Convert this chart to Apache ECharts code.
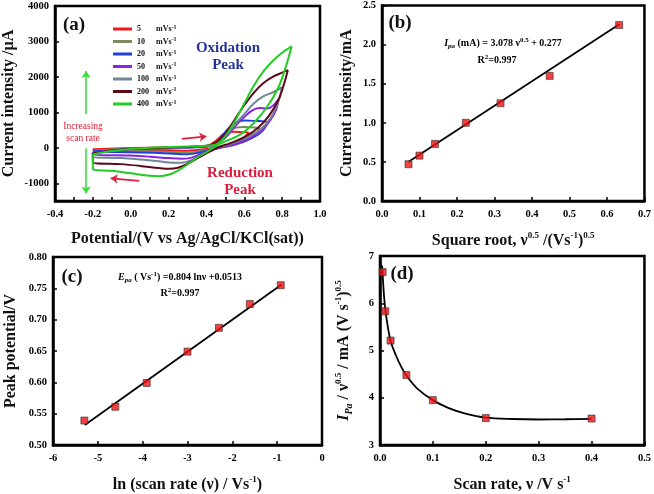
<!DOCTYPE html>
<html><head><meta charset="utf-8">
<script src="https://cdn.jsdelivr.net/npm/echarts@6/dist/echarts.min.js"></script>
<style>html,body{margin:0;padding:0;background:#fff}#c{width:654px;height:494px}</style>
</head><body><div id="c"></div>
<script>
// ---------- Panel (a): cyclic voltammograms (potential V, current µA) ----------
const cvRates = ['5', '10', '20', '50', '100', '200', '400'];
const cv5 = [[-0.2,-40],[0,-5],[0.2,15],[0.4,50],[0.45,200],[0.5,420],[0.55,450],[0.6,440],[0.62,430],[0.6,300],[0.56,160],[0.5,60],[0.45,10],[0.4,-30],[0.35,-60],[0.3,-80],[0.2,-70],[0,-55],[-0.2,-45],[-0.2,-40]];
const cv10 = [[-0.2,-80],[0,-20],[0.2,10],[0.4,40],[0.45,120],[0.5,380],[0.55,560],[0.6,590],[0.65,570],[0.68,560],[0.66,380],[0.62,220],[0.56,100],[0.5,30],[0.45,-20],[0.4,-60],[0.35,-110],[0.3,-130],[0.25,-125],[0.1,-95],[-0.2,-85],[-0.2,-80]];
const cv20 = [[-0.2,-100],[0,-30],[0.2,0],[0.4,40],[0.45,120],[0.5,450],[0.55,700],[0.6,770],[0.65,760],[0.72,720],[0.7,500],[0.65,300],[0.58,150],[0.5,40],[0.45,-20],[0.4,-80],[0.35,-150],[0.3,-180],[0.25,-175],[0.15,-145],[0,-125],[-0.2,-115],[-0.2,-100]];
const cv50 = [[-0.2,-130],[0,-40],[0.2,0],[0.4,40],[0.45,100],[0.5,280],[0.55,600],[0.6,870],[0.64,1050],[0.68,1120],[0.72,1110],[0.75,1180],[0.78,1370],[0.77,1100],[0.74,800],[0.69,480],[0.62,250],[0.54,80],[0.47,0],[0.42,-80],[0.36,-200],[0.31,-290],[0.27,-310],[0.2,-290],[0.1,-250],[0,-220],[-0.2,-190],[-0.2,-130]];
const cv100 = [[-0.2,-150],[0,-40],[0.2,0],[0.4,50],[0.45,120],[0.5,330],[0.55,650],[0.6,950],[0.65,1250],[0.7,1450],[0.75,1560],[0.8,1710],[0.78,1300],[0.74,850],[0.68,500],[0.6,260],[0.52,90],[0.47,20],[0.42,-80],[0.37,-220],[0.32,-350],[0.27,-420],[0.22,-420],[0.15,-380],[0.05,-330],[-0.05,-290],[-0.2,-260],[-0.2,-150]];
const cv200 = [[-0.2,-150],[-0.1,-80],[0,-30],[0.2,10],[0.4,60],[0.45,150],[0.5,400],[0.55,800],[0.6,1200],[0.65,1550],[0.7,1820],[0.75,2000],[0.8,2120],[0.83,2190],[0.81,1800],[0.78,1350],[0.73,900],[0.67,550],[0.6,300],[0.52,120],[0.47,30],[0.42,-100],[0.35,-300],[0.3,-450],[0.25,-560],[0.2,-590],[0.15,-570],[0.05,-510],[-0.05,-460],[-0.2,-410],[-0.2,-150]];
const cv400 = [[-0.2,-180],[-0.1,-90],[0,-30],[0.1,0],[0.2,20],[0.3,40],[0.4,60],[0.45,90],[0.5,330],[0.55,750],[0.6,1250],[0.65,1750],[0.7,2150],[0.75,2450],[0.8,2680],[0.85,2860],[0.82,2300],[0.78,1700],[0.72,1150],[0.65,700],[0.58,380],[0.5,180],[0.45,50],[0.4,-120],[0.35,-280],[0.3,-470],[0.25,-640],[0.2,-760],[0.15,-800],[0.1,-790],[0,-720],[-0.1,-650],[-0.2,-590],[-0.2,-180]];
const cvData = [cv5, cv10, cv20, cv50, cv100, cv200, cv400];
const cvColors = ['#f01818', '#7c8c5c', '#1f3fe0', '#8a22e6', '#6f8795', '#5c0a1a', '#22cc22'];
const aYTicks = [-1000, 0, 1000, 2000, 3000, 4000];

// ---------- Panel (b): peak current vs sqrt(scan rate) ----------
const bX = [0.0707, 0.1, 0.1414, 0.2236, 0.3162, 0.4472, 0.6325];
const bY = [0.47, 0.58, 0.73, 1.0, 1.25, 1.6, 2.25];
const bFit = [[0.07, 0.5], [0.633, 2.26]];

// ---------- Panel (c): peak potential vs ln(scan rate) ----------
const cX = [-5.30, -4.61, -3.91, -3.00, -2.30, -1.61, -0.92];
const cY = [0.539, 0.561, 0.599, 0.649, 0.687, 0.725, 0.755];
const cFit = [[-5.29, 0.532], [-0.90, 0.756]];

// ---------- Panel (d): Ipa/v^0.5 vs scan rate ----------
const dX = [0.005, 0.01, 0.02, 0.05, 0.1, 0.2, 0.4];
const dY = [6.66, 5.83, 5.21, 4.48, 3.95, 3.57, 3.56];
const dCurve = [[0.004,6.8],[0.005,6.6],[0.008,6.1],[0.012,5.7],[0.02,5.2],[0.03,4.9],[0.04,4.66],[0.05,4.47],[0.07,4.2],[0.1,3.95],[0.13,3.78],[0.16,3.67],[0.2,3.58],[0.25,3.55],[0.3,3.54],[0.35,3.545],[0.4,3.555]];

const zip = (xs, ys) => xs.map((x, i) => [x, ys[i]]);
const FONT = 'Liberation Serif';
const tickLbl = {fontFamily: FONT, fontWeight: 'bold', fontSize: 10.5, color: '#000'};
const nameStyle = {fontFamily: FONT, fontWeight: 'bold', fontSize: 16, color: '#111'};
const richBase = {
  n: {fontFamily: FONT, fontWeight: 'bold', fontSize: 16, color: '#111', lineHeight: 20},
  i: {fontFamily: FONT, fontWeight: 'bold', fontStyle: 'italic', fontSize: 16, color: '#111', lineHeight: 20},
  sup: {fontFamily: FONT, fontWeight: 'bold', fontSize: 9, color: '#111', lineHeight: 20, verticalAlign: 'top'},
  sub: {fontFamily: FONT, fontWeight: 'bold', fontStyle: 'italic', fontSize: 10, color: '#111', lineHeight: 20, verticalAlign: 'bottom'}
};
const axisCommon = {
  axisLine: {show: true, onZero: false, lineStyle: {color: '#000', width: 2.5}},
  axisTick: {show: true, inside: true, length: 4, lineStyle: {color: '#000', width: 1.5}},
  splitLine: {show: false},
  nameLocation: 'middle',
  nameTextStyle: Object.assign({}, nameStyle, {rich: richBase})
};
function ax(o) { return Object.assign({}, JSON.parse(JSON.stringify(axisCommon)), o); }

const grids = [
  {left: 52, top: 6, width: 268, height: 195},
  {left: 382, top: 5, width: 265, height: 196},
  {left: 53, top: 257, width: 269, height: 191},
  {left: 380, top: 256, width: 267, height: 193}
].map(g => Object.assign(g, {show: true, borderColor: '#000', borderWidth: 2.5, backgroundColor: 'transparent'}));

const fmt0 = v => String(v);
const fmt1 = v => v.toFixed(1);
const fmt2 = v => v.toFixed(2);

const xAxes = [
  ax({gridIndex: 0, type: 'value', min: -0.4, max: 1.0, interval: 0.2,
      minorTick: {show: true, splitNumber: 2, length: 4, lineStyle: {color: '#000', width: 1.5}},
      axisLabel: Object.assign({formatter: fmt1, margin: 8}, tickLbl),
      name: 'Potential/(V vs Ag/AgCl/KCl(sat))', nameGap: 30}),
  ax({gridIndex: 1, type: 'value', min: 0, max: 0.7, interval: 0.1,
      axisLabel: Object.assign({formatter: fmt1, margin: 8}, tickLbl),
      name: '{n|Square root, ν}{sup|0.5}{n| /(Vs}{sup|-1}{n|)}{sup|0.5}', nameGap: 30}),
  ax({gridIndex: 2, type: 'value', min: -6, max: 0, interval: 1,
      axisLabel: Object.assign({formatter: fmt0, margin: 8}, tickLbl),
      name: '{n|ln (scan rate (ν) / Vs}{sup|-1}{n|)}', nameGap: 30}),
  ax({gridIndex: 3, type: 'value', min: 0, max: 0.5, interval: 0.1,
      axisLabel: Object.assign({formatter: fmt1, margin: 8}, tickLbl),
      name: '{n|Scan rate, ν /V s}{sup|-1}', nameGap: 30})
];
const yAxes = [
  ax({gridIndex: 0, type: 'value', min: -1500, max: 4000,
      axisTick: {show: true, inside: true, length: 4, customValues: aYTicks, lineStyle: {color: '#000', width: 1.5}},
      axisLabel: Object.assign({customValues: aYTicks, formatter: fmt0, margin: 6}, tickLbl),
      name: 'Current intensity /µA', nameGap: 38}),
  ax({gridIndex: 1, type: 'value', min: 0, max: 2.5, interval: 0.5,
      axisLabel: Object.assign({formatter: fmt1, margin: 6}, tickLbl),
      name: 'Current intensity/mA', nameGap: 27}),
  ax({gridIndex: 2, type: 'value', min: 0.5, max: 0.8, interval: 0.05,
      axisLabel: Object.assign({formatter: fmt2, margin: 6}, tickLbl),
      name: 'Peak potential/V', nameGap: 34}),
  ax({gridIndex: 3, type: 'value', min: 3, max: 7, interval: 1,
      axisLabel: Object.assign({formatter: fmt0, margin: 6}, tickLbl),
      name: '{i|I}{sub|Pa}{n| / ν}{sup|0.5}{n| / mA (V s}{sup|-1}{n|)}{sup|0.5}', nameGap: 26})
];

const series = [];
cvRates.forEach((r, i) => {
  series.push({name: r, type: 'line', xAxisIndex: 0, yAxisIndex: 0, data: cvData[i],
    smooth: 0.35, showSymbol: false, symbol: 'none', lineStyle: {color: cvColors[i], width: 2},
    itemStyle: {color: cvColors[i]}, z: 2 + i});
});
// arrows in panel (a)
series.push({name: 'arrows', type: 'line', xAxisIndex: 0, yAxisIndex: 0, data: [], silent: true,
  markLine: {silent: true, symbol: ['none', 'arrow'], symbolSize: 7, label: {show: false},
    data: [
      [{coord: [-0.236, 950], lineStyle: {color: '#33dd33', width: 1.5, type: 'solid'}}, {coord: [-0.236, 2170]}],
      [{coord: [-0.236, -10], lineStyle: {color: '#33dd33', width: 1.5, type: 'solid'}}, {coord: [-0.236, -1290]}],
      [{coord: [0.27, 250], lineStyle: {color: '#e0203a', width: 1.8, type: 'solid'}}, {coord: [0.40, 320]}],
      [{coord: [0.045, -930], lineStyle: {color: '#e0203a', width: 1.8, type: 'solid'}}, {coord: [-0.106, -860]}]
    ]}});

const markerStyle = {color: '#ee1111', borderColor: '#333', borderWidth: 0.8};
series.push({type: 'line', xAxisIndex: 1, yAxisIndex: 1, data: bFit, showSymbol: false, symbol: 'none', lineStyle: {color: '#000', width: 1.8}});
series.push({type: 'scatter', xAxisIndex: 1, yAxisIndex: 1, data: zip(bX, bY), symbol: 'rect', symbolSize: 7, itemStyle: markerStyle, z: 5});
series.push({type: 'line', xAxisIndex: 2, yAxisIndex: 2, data: cFit, showSymbol: false, symbol: 'none', lineStyle: {color: '#000', width: 1.8}});
series.push({type: 'scatter', xAxisIndex: 2, yAxisIndex: 2, data: zip(cX, cY), symbol: 'rect', symbolSize: 7, itemStyle: markerStyle, z: 5});
series.push({type: 'line', xAxisIndex: 3, yAxisIndex: 3, data: dCurve, smooth: 0.3, showSymbol: false, symbol: 'none', lineStyle: {color: '#000', width: 1.8}});
series.push({type: 'scatter', xAxisIndex: 3, yAxisIndex: 3, data: zip(dX, dY), symbol: 'rect', symbolSize: 7, itemStyle: markerStyle, z: 5});

const smallRich = {
  n: {fontFamily: FONT, fontWeight: 'bold', fontSize: 10, color: '#111', lineHeight: 13},
  i: {fontFamily: FONT, fontWeight: 'bold', fontStyle: 'italic', fontSize: 10, color: '#111', lineHeight: 13},
  sup: {fontFamily: FONT, fontWeight: 'bold', fontSize: 7, color: '#111', lineHeight: 13, verticalAlign: 'top'},
  sub: {fontFamily: FONT, fontWeight: 'bold', fontStyle: 'italic', fontSize: 7, color: '#111', lineHeight: 13, verticalAlign: 'bottom'}
};
function txt(x, y, text, size, color, extra) {
  return {type: 'text', x: x, y: y, z: 100, style: Object.assign({text: text, fontFamily: FONT, fontWeight: 'bold', fontSize: size, fill: color, align: 'center', verticalAlign: 'middle'}, extra || {})};
}
const graphics = [
  txt(74, 25, '(a)', 19, '#111'),
  txt(400, 23, '(b)', 19, '#111'),
  txt(72, 277, '(c)', 19, '#111'),
  txt(402, 274, '(d)', 19, '#111'),
  txt(228, 48, 'Oxidation', 15, '#26349a'),
  txt(228, 65, 'Peak', 15, '#26349a'),
  txt(240, 173, 'Reduction', 15, '#d81e3c'),
  txt(240, 190, 'Peak', 15, '#d81e3c'),
  txt(83, 126, 'Increasing', 9.5, '#e0203a', {fontWeight: 'normal'}),
  txt(83, 138, 'scan rate', 9.5, '#e0203a', {fontWeight: 'normal'}),
  {type: 'text', x: 503, y: 43, z: 100, style: {text: '{i|I}{sub|pa}{n| (mA) = 3.078 ν}{sup|0.5}{n| + 0.277}', rich: smallRich, align: 'center', verticalAlign: 'middle'}},
  {type: 'text', x: 497, y: 60, z: 100, style: {text: '{n|R}{sup|2}{n|=0.997}', rich: smallRich, align: 'center', verticalAlign: 'middle'}},
  {type: 'text', x: 180, y: 277, z: 100, style: {text: '{i|E}{sub|pa}{n| ( Vs}{sup|-1}{n|) =0.804 lnν +0.0513}', rich: smallRich, align: 'center', verticalAlign: 'middle'}},
  {type: 'text', x: 180, y: 293, z: 100, style: {text: '{n|R}{sup|2}{n|=0.997}', rich: smallRich, align: 'center', verticalAlign: 'middle'}}
];

const chart = echarts.init(document.getElementById('c'), null, {renderer: 'canvas'});
chart.setOption({
  animation: false,
  backgroundColor: '#fff',
  grid: grids,
  xAxis: xAxes,
  yAxis: yAxes,
  legend: {
    data: cvRates, orient: 'vertical', left: 108, top: 19, itemWidth: 19, itemHeight: 3, itemGap: 3.5,
    icon: 'rect', selectedMode: false,
    formatter: name => '{num|' + name + '}{u|mVs}{sup|-1}',
    textStyle: {rich: {
      num: {fontFamily: FONT, fontWeight: 'bold', fontSize: 8, color: '#111', width: 19, lineHeight: 10},
      u: {fontFamily: FONT, fontWeight: 'bold', fontSize: 8, color: '#111', lineHeight: 10},
      sup: {fontFamily: FONT, fontWeight: 'bold', fontSize: 6, color: '#111', lineHeight: 10, verticalAlign: 'top'}
    }}
  },
  series: series,
  graphic: graphics
});
</script>
</body></html>
